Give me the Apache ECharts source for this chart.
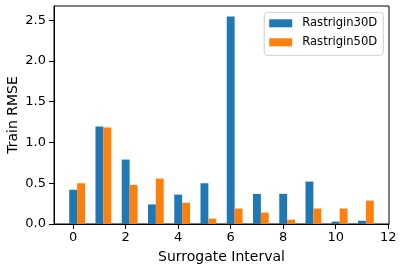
<!DOCTYPE html>
<html><head><meta charset="utf-8">
<script src="https://cdn.jsdelivr.net/npm/echarts@6/dist/echarts.min.js"></script>
<style>html,body{margin:0;padding:0;background:#fff}#c{width:404px;height:270px}</style>
</head><body><div id="c"></div>
<script>
const intervals = [0,1,2,3,4,5,6,7,8,9,10,11];
const rastrigin30D = [0.42,1.196,0.79,0.24,0.36,0.50,2.547,0.37,0.37,0.52,0.03,0.04];
const rastrigin50D = [0.50,1.183,0.48,0.557,0.26,0.066,0.19,0.14,0.053,0.19,0.19,0.287];
const xTicks = [0,2,4,6,8,10,12];
const yTicks = [0,0.5,1.0,1.5,2.0,2.5];

const BAR = 0.3;
const xMin = intervals[0] - BAR/2, xMax = intervals[intervals.length-1] + BAR*1.5;
const xPad = (xMax - xMin)*0.05;
const yMax = Math.max(...rastrigin30D, ...rastrigin50D)*1.05;

const chart = echarts.init(document.getElementById('c'), null, {renderer:'canvas'});
const gridLeft = 54, gridRight = 15;
const plotW = 404 - gridLeft - gridRight;
const barPx = BAR * plotW / ((xMax + xPad) - (xMin - xPad));
const font = 'DejaVu Sans';
chart.setOption({
  animation:false,
  textStyle:{fontFamily:font},
  grid:{left:gridLeft,right:gridRight,top:6,bottom:46,containLabel:false,outerBoundsMode:'none',show:true,borderColor:'#000',borderWidth:1,backgroundColor:'transparent'},
  legend:{
    orient:'vertical', right:20.7, top:12.3,
    data:['Rastrigin30D','Rastrigin50D'],
    icon:'rect', itemWidth:23, itemHeight:8, itemGap:7,
    padding:[5,6,7,5],
    borderColor:'#d0d0d0', borderWidth:1, borderRadius:3, backgroundColor:'#fff',
    textStyle:{fontFamily:font,fontSize:11.6,color:'#000',lineHeight:11,padding:[0,0,0,5]}
  },
  xAxis:{
    type:'value', min:xMin - xPad, max:xMax + xPad,
    name:'Surrogate Interval', nameLocation:'middle', nameGap:26, nameMoveOverlap:false,
    nameTextStyle:{fontFamily:font,fontSize:14,color:'#000'},
    axisLine:{show:true,onZero:false,lineStyle:{color:'#000',width:1}},
    axisTick:{show:true,length:5,lineStyle:{color:'#000'},customValues:xTicks},
    axisLabel:{color:'#000',fontSize:13,fontFamily:font,margin:7,customValues:xTicks,formatter:v=>String(v)},
    splitLine:{show:false}
  },
  yAxis:{
    type:'value', min:0, max:yMax,
    name:'Train RMSE', nameLocation:'middle', nameGap:34, nameMoveOverlap:false,
    nameTextStyle:{fontFamily:font,fontSize:14,color:'#000'},
    axisLine:{show:true,onZero:false,lineStyle:{color:'#000',width:1}},
    axisTick:{show:true,length:5,lineStyle:{color:'#000'},customValues:yTicks},
    axisLabel:{color:'#000',fontSize:13,fontFamily:font,margin:8,customValues:yTicks,formatter:v=>v.toFixed(1)},
    splitLine:{show:false}
  },
  series:[
    {name:'Rastrigin30D',type:'bar',barWidth:barPx,barGap:'-100%',itemStyle:{color:'#1f77b4'},
     data:intervals.map((x,i)=>[x, rastrigin30D[i]])},
    {name:'Rastrigin50D',type:'bar',barWidth:barPx,barGap:'-100%',itemStyle:{color:'#ff7f0e'},
     data:intervals.map((x,i)=>[x + BAR, rastrigin50D[i]])}
  ]
});
</script></body></html>
